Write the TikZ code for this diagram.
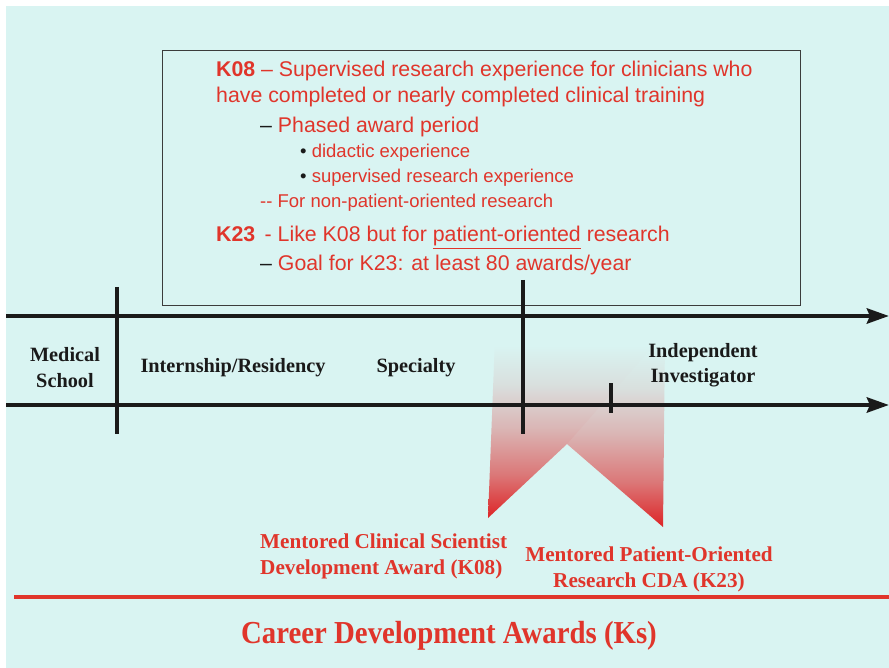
\documentclass[tikz,border=0pt]{standalone}
\usepackage{fontspec}
\setmainfont{Liberation Serif}
\setsansfont{Liberation Sans}
\newfontfamily\headfont{Liberation Serif}[FakeStretch=0.9]
\usetikzlibrary{arrows.meta, positioning}

\definecolor{slide}{HTML}{D9F4F2}
\definecolor{kred}{HTML}{E0352B}
\definecolor{ribred}{HTML}{DD2426}
\definecolor{ink}{HTML}{1A1A1A}

% red at the bottom, fading out into the slide colour towards the top
\pgfdeclareverticalshading{ribfade}{100bp}{color(0bp)=(ribred); color(25bp)=(ribred);
  color(37bp)=(ribred!60!slide); color(50bp)=(ribred!30!slide);
  color(62bp)=(ribred!10!slide); color(73bp)=(slide); color(100bp)=(slide)}

\begin{document}
\begin{tikzpicture}[x=1pt, y=-1pt,
  stage/.style={font=\fontsize{20.3}{25}\selectfont\bfseries, text=ink, align=center, inner sep=0pt, anchor=base},
  award/.style={font=\fontsize{21.2}{26}\selectfont\bfseries, text=kred, inner sep=0pt, anchor=base},
  item/.style={anchor=base west, inner sep=0pt, text=kred, font=\sffamily\fontsize{21.3}{24}\selectfont},
  subitem/.style={item, font=\sffamily\fontsize{18.5}{20}\selectfont},
  track/.style={line width=4.5pt, ink, -{Stealth[length=22pt, width=15pt, inset=3pt]}},
  bar/.style={line width=4pt, ink},
  ribbon/.style={shading=ribfade}
]

% slide background, white strip at top and left
\useasboundingbox (0,0) rectangle (889,668);
\fill[slide] (6,6) rectangle (889,668);

% folded ribbon under the timeline
\shade[ribbon] (567,444) -- (663,527) -- (665,340) -- (567,340) -- cycle;
\shade[ribbon] (495,338) -- (488,518) -- (567,444) -- (660,338) -- cycle;

% text panel
\node[draw=ink!85, line width=0.8pt, minimum width=638pt, minimum height=255pt, anchor=north west, inner sep=0pt] (panel) at (162,50) {};

\node[item] (k08a) at (216,77) {\textbf{K08} -- Supervised research experience for clinicians who};
\node[item] (k08b) at (216,103) {have completed or nearly completed clinical training};
\node[item] (phase) at (260,133) {\textcolor{ink}{--} Phased award period};
\node[subitem] (did) at (300,158) {\textcolor{ink}{\textbullet} didactic experience};
\node[subitem] (sup) at (300,183) {\textcolor{ink}{\textbullet} supervised research experience};
\node[subitem] (nonpat) at (260,208) {-{}- For non-patient-oriented research};
\node[item] (k23) at (216,242) {\textbf{K23}\, - Like K08 but for \underline{patient-oriented} research};
\node[item] (goal) at (260,271) {\textcolor{ink}{--} Goal for K23: at least 80 awards/year};

% timeline
\coordinate (upS) at (6,316);
\coordinate (upE) at (889,316);
\coordinate (loS) at (6,405);
\coordinate (loE) at (889,405);
\draw[track] (upS) -- (upE);
\draw[track] (loS) -- (loE);

\coordinate (mdTop) at (117,287);
\coordinate (mdBot) at (117,434);
\coordinate (spTop) at (523,280);
\coordinate (spBot) at (523,434);
\coordinate (inTop) at (611,383);
\coordinate (inBot) at (611,413);
\draw[bar] (mdTop) -- (mdBot);
\draw[bar] (spTop) -- (spBot);
\draw[bar] (inTop) -- (inBot);

% career stages (base = last line)
\node[stage] (med) at (65,387) {Medical\\School};
\node[stage] (intern) at (233,373) {Internship/Residency};
\node[stage] (spec) at (416,373) {Specialty};
\node[stage] (indep) at (703,382) {Independent\\Investigator};

% awards
\node[award, align=left, anchor=base west] (k08) at (260,574) {Mentored Clinical Scientist\\Development Award (K08)};
\node[award, align=center] (k23cda) at (649,587) {Mentored Patient-Oriented\\Research CDA (K23)};

\coordinate (ruleS) at (14,597);
\coordinate (ruleE) at (889,597);
\draw[kred, line width=4.5pt] (ruleS) -- (ruleE);

\node[font=\headfont\fontsize{32}{36}\selectfont\bfseries, text=kred, anchor=base, inner sep=0pt] (title) at (449,643) {Career Development Awards (Ks)};

\end{tikzpicture}
\end{document}
